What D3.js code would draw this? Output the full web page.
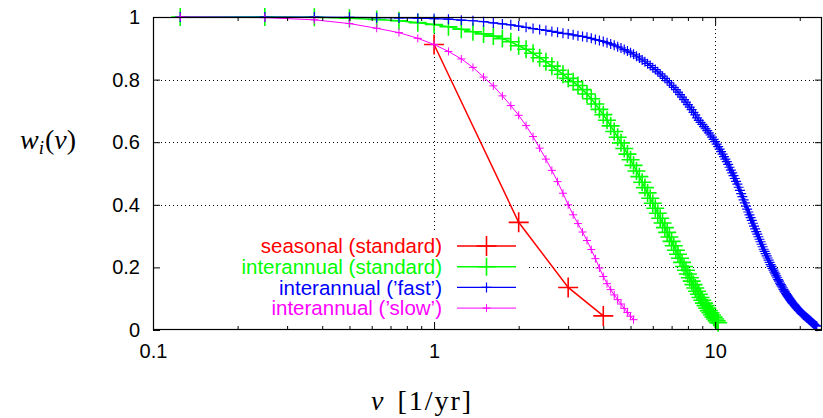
<!DOCTYPE html>
<html lang="en">

<head>
    <meta charset="UTF-8">
    <title>w_i(nu)</title>
    <script src="https://d3js.org/d3.v7.min.js"></script>
    <style>
        body { margin: 0; background: #fff; }
    </style>
</head>

<body>
    <div id="my_dataviz"></div>
    <script>
        // marks every 1/8 per year
        var nuStep = 0.125

        var seasonalNu = [1, 2, 3, 4]
        var seasonalW = [0.912, 0.344, 0.136, 0.045]

        var standardW = [1.000, 1.000, 0.999, 0.996, 0.992, 0.988, 0.982, 0.976,
            0.969, 0.961, 0.953, 0.946, 0.939, 0.931, 0.921, 0.908,
            0.897, 0.884, 0.870, 0.857, 0.843, 0.830, 0.817, 0.804,
            0.793, 0.781, 0.768, 0.754, 0.739, 0.722, 0.705, 0.688,
            0.670, 0.652, 0.634, 0.616, 0.598, 0.580, 0.562, 0.544,
            0.526, 0.508, 0.490, 0.472, 0.455, 0.438, 0.421, 0.405,
            0.389, 0.373, 0.357, 0.342, 0.327, 0.312, 0.297, 0.283,
            0.269, 0.255, 0.242, 0.229, 0.216, 0.203, 0.191, 0.179,
            0.167, 0.156, 0.145, 0.134, 0.124, 0.114, 0.104, 0.095,
            0.086, 0.078, 0.070, 0.062, 0.055, 0.048, 0.041, 0.035,
            0.029, 0.023]

        var fastW = [1.000, 1.000, 1.000, 0.999, 0.998, 0.997, 0.996, 0.995,
            0.993, 0.990, 0.988, 0.985, 0.981, 0.978, 0.975, 0.971,
            0.967, 0.963, 0.960, 0.957, 0.954, 0.951, 0.948, 0.946,
            0.943, 0.940, 0.938, 0.935, 0.932, 0.928, 0.925, 0.922,
            0.918, 0.914, 0.910, 0.905, 0.901, 0.896, 0.891, 0.886,
            0.881, 0.875, 0.869, 0.863, 0.857, 0.851, 0.845, 0.838,
            0.832, 0.825, 0.818, 0.811, 0.804, 0.797, 0.790, 0.782,
            0.775, 0.768, 0.760, 0.752, 0.744, 0.736, 0.728, 0.720,
            0.712, 0.704, 0.695, 0.687, 0.678, 0.670, 0.663, 0.657,
            0.650, 0.643, 0.637, 0.630, 0.623, 0.616, 0.609, 0.602,
            0.594, 0.586, 0.578, 0.570, 0.562, 0.554, 0.546, 0.538,
            0.529, 0.520, 0.511, 0.502, 0.493, 0.484, 0.475, 0.466,
            0.456, 0.446, 0.436, 0.426, 0.416, 0.406, 0.396, 0.386,
            0.377, 0.368, 0.359, 0.350, 0.341, 0.332, 0.323, 0.314,
            0.306, 0.298, 0.290, 0.282, 0.274, 0.266, 0.258, 0.251,
            0.244, 0.237, 0.230, 0.223, 0.216, 0.209, 0.203, 0.197,
            0.191, 0.185, 0.179, 0.173, 0.167, 0.161, 0.156, 0.150,
            0.145, 0.140, 0.135, 0.130, 0.125, 0.121, 0.116, 0.112,
            0.108, 0.104, 0.100, 0.096, 0.093, 0.089, 0.086, 0.083,
            0.080, 0.077, 0.074, 0.071, 0.068, 0.065, 0.063, 0.060,
            0.058, 0.055, 0.053, 0.050, 0.048, 0.046, 0.044, 0.042,
            0.040, 0.038, 0.036, 0.034, 0.032, 0.030, 0.028, 0.026,
            0.024, 0.022, 0.020, 0.018, 0.016, 0.014, 0.013, 0.012]

        var slowW = [1.000, 0.998, 0.991, 0.979, 0.964, 0.950, 0.932, 0.912,
            0.890, 0.866, 0.839, 0.808, 0.780, 0.748, 0.717, 0.686,
            0.653, 0.618, 0.581, 0.546, 0.510, 0.474, 0.437, 0.400,
            0.368, 0.340, 0.313, 0.286, 0.257, 0.228, 0.198, 0.171,
            0.148, 0.129, 0.112, 0.097, 0.083, 0.069, 0.056, 0.044,
            0.033]

        var yTicks = [0, 0.2, 0.4, 0.6, 0.8, 1]
        var xTicks = [0.1, 1, 10]
        var xMinor = [0.2, 0.3, 0.4, 0.5, 0.6, 0.7, 0.8, 0.9, 2, 3, 4, 5, 6, 7, 8, 9, 20]
        var legendLabels = ["seasonal (standard)", "interannual (standard)", "interannual (\u2019fast\u2019)", "interannual (\u2019slow\u2019)"]

        var width = 823,
            height = 418
        var pLeft = 153,
            pRight = 822,
            pTop = 17,
            pBottom = 330

        var svg = d3.select("#my_dataviz")
            .append("svg")
            .attr("width", width)
            .attr("height", height)

        var x = d3.scaleLog().domain([0.1, 24]).range([pLeft, pRight])
        var y = d3.scaleLinear().domain([0, 1]).range([pBottom, pTop])

        function gridded(ws) {
            return ws.map(function(w, i) {
                return [nuStep * (i + 1), w]
            })
        }

        var series = [{
                pts: seasonalNu.map(function(n, i) { return [n, seasonalW[i]] }),
                color: "#ff0000", size: 10, lw: 1.5, mw: 1.6
            },
            { pts: gridded(standardW), color: "#00ff00", size: 9, lw: 1.5, mw: 1.6 },
            { pts: gridded(fastW), color: "#0000ff", size: 5, lw: 1.2, mw: 1.2 },
            { pts: gridded(slowW), color: "#ff00ff", size: 4, lw: 1, mw: 1 }
        ]

        // grid
        var grid = svg.append("g")
            .attr("stroke", "#000")
            .attr("stroke-width", 1)
            .attr("stroke-dasharray", "1,3")
        grid.selectAll("hline")
            .data([0.2, 0.4, 0.6, 0.8])
            .enter()
            .append("line")
            .attr("x1", pLeft).attr("x2", pRight)
            .attr("y1", function(d) { return Math.round(y(d)) + 0.5 })
            .attr("y2", function(d) { return Math.round(y(d)) + 0.5 })
        grid.selectAll("vline")
            .data([1, 10])
            .enter()
            .append("line")
            .attr("x1", function(d) { return Math.round(x(d)) + 0.5 })
            .attr("x2", function(d) { return Math.round(x(d)) + 0.5 })
            .attr("y1", pTop).attr("y2", pBottom)

        // opaque key box
        svg.append("rect")
            .attr("x", pLeft + 1)
            .attr("y", 233)
            .attr("width", 528 - pLeft)
            .attr("height", pBottom - 233 - 1)
            .attr("fill", "#fff")

        function crossPath(px, py, s) {
            return "M" + (px - s) + "," + py + "H" + (px + s) + "M" + px + "," + (py - s) + "V" + (py + s)
        }

        var line = d3.line()
            .x(function(d) { return x(d[0]) })
            .y(function(d) { return y(d[1]) })

        series.forEach(function(s) {
            svg.append("path")
                .attr("d", line(s.pts))
                .attr("fill", "none")
                .attr("stroke", s.color)
                .attr("stroke-width", s.lw)
            svg.append("path")
                .attr("d", s.pts.map(function(d) {
                    return crossPath(x(d[0]), y(d[1]), s.size)
                }).join(""))
                .attr("fill", "none")
                .attr("stroke", s.color)
                .attr("stroke-width", s.mw)
        })

        // axes, ticks inward and mirrored
        var font = "'Liberation Sans', Arial, Helvetica, sans-serif"

        function styleAxis(g) {
            g.select(".domain").remove()
            g.selectAll("text")
                .style("font-family", font)
                .style("font-size", "20px")
                .attr("fill", "#000")
        }

        svg.append("g")
            .attr("transform", "translate(" + pLeft + ",0)")
            .call(d3.axisLeft(y).tickValues(yTicks).tickFormat(d3.format("~g")).tickSize(-7).tickPadding(13))
            .call(styleAxis)
        svg.append("g")
            .attr("transform", "translate(" + pRight + ",0)")
            .call(d3.axisRight(y).tickValues(yTicks).tickFormat("").tickSize(-7))
            .call(styleAxis)
        svg.append("g")
            .attr("transform", "translate(0," + pBottom + ")")
            .call(d3.axisBottom(x).tickValues(xTicks).tickFormat(d3.format("~g")).tickSize(-8).tickPadding(14))
            .call(styleAxis)
        svg.append("g")
            .attr("transform", "translate(0," + pBottom + ")")
            .call(d3.axisBottom(x).tickValues(xMinor).tickFormat("").tickSize(-4))
            .call(styleAxis)
        svg.append("g")
            .attr("transform", "translate(0," + pTop + ")")
            .call(d3.axisTop(x).tickValues(xTicks).tickFormat("").tickSize(-8))
            .call(styleAxis)
        svg.append("g")
            .attr("transform", "translate(0," + pTop + ")")
            .call(d3.axisTop(x).tickValues(xMinor).tickFormat("").tickSize(-4))
            .call(styleAxis)

        svg.append("rect")
            .attr("x", pLeft + 0.5)
            .attr("y", pTop + 0.5)
            .attr("width", pRight - pLeft - 1)
            .attr("height", pBottom - pTop - 1)
            .attr("fill", "none")
            .attr("stroke", "#000")
            .attr("stroke-width", 1.2)

        // key
        var key = svg.append("g")
        series.forEach(function(s, i) {
            var ky = 246 + i * 20.7
            key.append("text")
                .attr("x", 442)
                .attr("y", ky)
                .attr("dy", "0.35em")
                .attr("text-anchor", "end")
                .attr("fill", s.color)
                .style("font-family", font)
                .style("font-size", "20.5px")
                .text(legendLabels[i])
            key.append("line")
                .attr("x1", 457).attr("x2", 516)
                .attr("y1", ky).attr("y2", ky)
                .attr("stroke", s.color)
                .attr("stroke-width", s.lw)
            key.append("path")
                .attr("d", crossPath(486.5, ky, s.size))
                .attr("stroke", s.color)
                .attr("stroke-width", s.mw)
        })

        // axis labels
        var serif = "'Liberation Serif', 'DejaVu Serif', serif"
        var yl = svg.append("text")
            .attr("x", 20)
            .attr("y", 149)
            .style("font-family", serif)
            .style("font-size", "28px")
        yl.append("tspan").style("font-style", "italic").text("w")
        yl.append("tspan").style("font-style", "italic").style("font-size", "19px").attr("dy", 5).text("i")
        yl.append("tspan").attr("dy", -5).attr("dx", 1).text("(")
        yl.append("tspan").style("font-style", "italic").text("\u03bd")
        yl.append("tspan").text(")")

        var xl = svg.append("text")
            .attr("x", 371)
            .attr("y", 410)
            .style("font-family", serif)
            .style("font-size", "28px")
        xl.append("tspan").style("font-style", "italic").text("\u03bd")
        xl.append("tspan").attr("dx", 14).style("letter-spacing", "2px").text("[1/yr]")
    </script>
</body>

</html>
